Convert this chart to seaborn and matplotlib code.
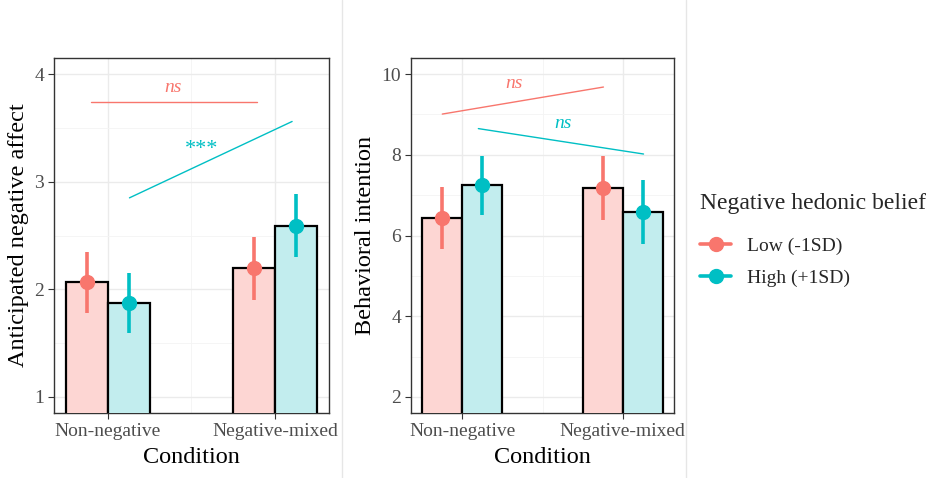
import numpy as np
import pandas as pd
import matplotlib
matplotlib.use("Agg")
import matplotlib.pyplot as plt
from matplotlib.lines import Line2D
from matplotlib.ticker import MultipleLocator
import seaborn as sns

# datos
conditions = ["Non-negative", "Negative-mixed"]
groups = ["Low (-1SD)", "High (+1SD)"]

affect_mean = [2.07, 1.87, 2.20, 2.59]      # orden: cond x grupo
affect_low = [1.78, 1.59, 1.90, 2.30]
affect_high = [2.35, 2.15, 2.49, 2.89]

intent_mean = [6.43, 7.24, 7.18, 6.59]
intent_low = [5.66, 6.50, 6.38, 5.80]
intent_high = [7.20, 7.98, 7.97, 7.37]

# lineas de comparacion (x en posiciones de categoria, y en escala de datos)
affect_cmp = [
    {"group": "Low (-1SD)", "x": [-0.10, 0.89], "y": [3.74, 3.74], "label": "ns", "lx": 0.39, "ly": 3.88},
    {"group": "High (+1SD)", "x": [0.13, 1.10], "y": [2.85, 3.56], "label": "***", "lx": 0.56, "ly": 3.30},
]
intent_cmp = [
    {"group": "Low (-1SD)", "x": [-0.125, 0.88], "y": [9.01, 9.68], "label": "ns", "lx": 0.32, "ly": 9.76},
    {"group": "High (+1SD)", "x": [0.10, 1.13], "y": [8.65, 8.02], "label": "ns", "lx": 0.63, "ly": 8.77},
]

colors = {"Low (-1SD)": "#F8766D", "High (+1SD)": "#00BFC4"}
fills = {"Low (-1SD)": "#FDD6D3", "High (+1SD)": "#C2EDEE"}

sns.set_theme(style="white")
plt.rcParams["font.family"] = ["Liberation Serif", "DejaVu Serif"]


def make_df(mean, lo, hi):
    rows = []
    k = 0
    for c in conditions:
        for g in groups:
            rows.append({"Condition": c, "group": g, "value": mean[k], "lo": lo[k], "hi": hi[k]})
            k += 1
    return pd.DataFrame(rows)


def draw_panel(ax, df, ylabel, ylim, major, cmp):
    sns.barplot(data=df, x="Condition", y="value", hue="group", order=conditions,
                hue_order=groups, palette=fills, saturation=1, width=0.5, edgecolor="black",
                linewidth=1.6, errorbar=None, legend=False, ax=ax, zorder=3)
    offs = {"Low (-1SD)": -0.125, "High (+1SD)": 0.125}
    for _, r in df.iterrows():
        xp = conditions.index(r["Condition"]) + offs[r["group"]]
        ax.errorbar(xp, r["value"], yerr=[[r["value"] - r["lo"]], [r["hi"] - r["value"]]],
                    fmt="o", color=colors[r["group"]], ms=10, elinewidth=2.6, capsize=0, zorder=5)
    for c in cmp:
        col = colors[c["group"]]
        ax.plot(c["x"], c["y"], color=col, lw=1.0, zorder=4)
        if c["label"] == "ns":
            ax.text(c["lx"], c["ly"], c["label"], color=col, fontsize=14, style="italic",
                    ha="center", va="center", zorder=4)
        else:
            ax.text(c["lx"], c["ly"], c["label"], color=col, fontsize=16,
                    ha="center", va="center", zorder=4)
    ax.set_xlim(-0.32, 1.32)
    ax.set_ylim(*ylim)
    ax.yaxis.set_major_locator(MultipleLocator(major))
    ax.yaxis.set_minor_locator(MultipleLocator(major / 2))
    ax.xaxis.set_minor_locator(MultipleLocator(0.5))
    ax.grid(True, which="major", color="#EBEBEB", lw=1.0, zorder=0)
    ax.grid(True, which="minor", color="#F4F4F4", lw=0.6, zorder=0)
    ax.set_axisbelow(True)
    for s in ax.spines.values():
        s.set_color("#333333")
        s.set_linewidth(1.0)
    ax.tick_params(axis="both", which="major", length=4, width=0.8, color="#333333",
                   labelsize=14, labelcolor="#4D4D4D", bottom=True, left=True, pad=3)
    ax.tick_params(which="minor", length=0)
    ax.set_xlabel("Condition", fontsize=17.5, color="black", labelpad=5)
    ax.set_ylabel(ylabel, fontsize=17.5, color="black", labelpad=4)


fig = plt.figure(figsize=(9.37, 4.78), dpi=100)
ax1 = fig.add_axes([54 / 937, 65 / 478, 275 / 937, 355 / 478])
ax2 = fig.add_axes([411 / 937, 65 / 478, 263 / 937, 355 / 478])

draw_panel(ax1, make_df(affect_mean, affect_low, affect_high),
           "Anticipated negative affect", (0.85, 4.15), 1, affect_cmp)
draw_panel(ax2, make_df(intent_mean, intent_low, intent_high),
           "Behavioral intention", (1.6, 10.4), 2, intent_cmp)

# separadores entre paneles
for xs in [342 / 937, 686 / 937]:
    fig.add_artist(Line2D([xs, xs], [0, 1], color="#E6E6E6", lw=1.0))

# leyenda: titulo aparte para controlar el espacio
fig.text(700 / 937, 1 - 203 / 478, "Negative hedonic belief", fontsize=17,
         ha="left", va="center")
handles = [Line2D([0], [0], color=colors[g], marker="o", ms=10, lw=2.6) for g in groups]
fig.legend(handles, groups, loc="center left", bbox_to_anchor=(700 / 937, 1 - 262 / 478),
           frameon=False, fontsize=14, handlelength=1.6, handletextpad=0.8,
           labelspacing=0.75, borderpad=0, borderaxespad=0)

fig.savefig("out.png", dpi=100)
